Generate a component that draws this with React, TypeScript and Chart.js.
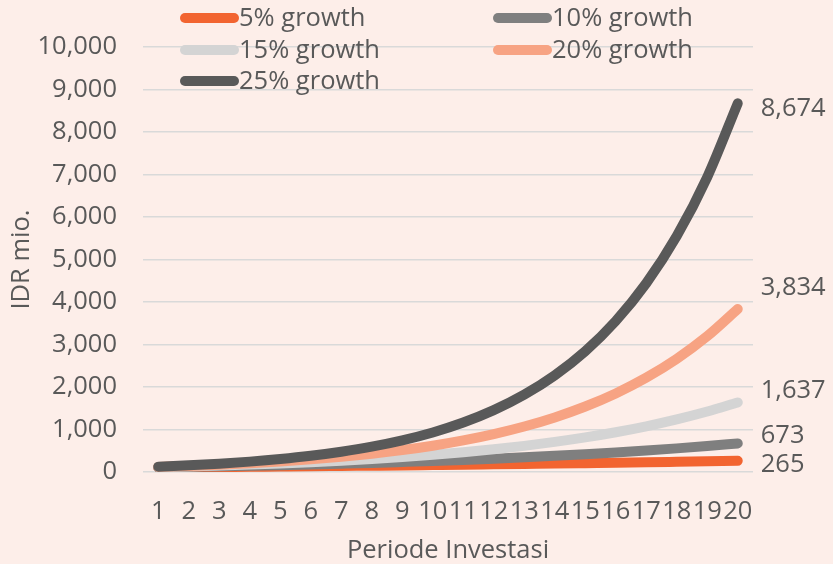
import React, { useEffect, useRef } from "react";
import { Chart, registerables } from "chart.js";

Chart.register(...registerables);

const periods = ["1","2","3","4","5","6","7","8","9","10","11","12","13","14","15","16","17","18","19","20"];
const seriesNames = ["5% growth", "10% growth", "15% growth", "20% growth", "25% growth"];
const growth5 = [105,110,116,122,128,134,141,148,155,163,171,180,189,198,208,218,229,241,253,265];
const growth10 = [110,121,133,146,161,177,195,214,236,259,285,314,345,380,418,459,505,556,612,673];
const growth15 = [115,132,152,175,201,231,266,306,352,405,465,535,615,708,814,936,1076,1238,1423,1637];
const growth20 = [120,144,173,207,249,299,358,430,516,619,743,892,1070,1284,1541,1849,2219,2662,3195,3834];
const growth25 = [125,156,195,244,305,381,477,596,745,931,1164,1455,1819,2274,2842,3553,4441,5551,6939,8674];
const yTicks = [0,1000,2000,3000,4000,5000,6000,7000,8000,9000,10000];

const colors = ["#F26430", "#7F7F7F", "#D4D4D4", "#F7A383", "#595959"];
const FONT = "'Open Sans', Lato, sans-serif";
const FS = 25.5;
const TEXT = "#595959";
const BG = "#FDEEE9";

const legendPlugin = {
  id: "cornerLegend",
  afterDraw(chart: any) {
    const ctx = chart.ctx;
    const cols = [180, 493];
    const rows = [18, 50, 81];
    ctx.save();
    ctx.font = `${FS}px ${FONT}`;
    ctx.textBaseline = "middle";
    ctx.textAlign = "left";
    chart.data.datasets.forEach((ds: any, i: number) => {
      const x = cols[i % 2];
      const y = rows[Math.floor(i / 2)];
      ctx.strokeStyle = ds.borderColor;
      ctx.lineWidth = 10;
      ctx.lineCap = "round";
      ctx.beginPath();
      ctx.moveTo(x + 5, y);
      ctx.lineTo(x + 54, y);
      ctx.stroke();
      ctx.fillStyle = TEXT;
      ctx.fillText(ds.label, x + 59, y + 1);
    });
    ctx.restore();
  },
};

const endLabelPlugin = {
  id: "endLabels",
  afterDatasetsDraw(chart: any) {
    const ctx = chart.ctx;
    const dy = [4, -8, -12, -21, 5];
    ctx.save();
    ctx.font = `${FS}px ${FONT}`;
    ctx.textBaseline = "middle";
    ctx.textAlign = "left";
    ctx.fillStyle = TEXT;
    chart.data.datasets.forEach((ds: any, i: number) => {
      const meta = chart.getDatasetMeta(i);
      const pt = meta.data[meta.data.length - 1];
      const v = ds.data[ds.data.length - 1];
      ctx.fillText(v.toLocaleString("en-US"), pt.x + 23, pt.y + dy[i]);
    });
    ctx.restore();
  },
};

export default function App() {
  const ref = useRef<HTMLCanvasElement | null>(null);
  useEffect(() => {
    if (!ref.current) return;
    const all = [growth5, growth10, growth15, growth20, growth25];
    const chart = new Chart(ref.current, {
      type: "line",
      data: {
        labels: periods,
        datasets: all.map((d, i) => ({
          label: seriesNames[i],
          data: d,
          borderColor: colors[i],
          backgroundColor: colors[i],
          borderWidth: 10,
          borderCapStyle: "round",
          borderJoinStyle: "round",
          pointRadius: 0,
          tension: 0.4,
          cubicInterpolationMode: "monotone",
          order: 5 - i,
        })),
      },
      options: {
        animation: false,
        responsive: true,
        maintainAspectRatio: false,
        layout: { padding: { left: 0, right: 80, top: 47, bottom: 0 } },
        plugins: {
          legend: { display: false },
          tooltip: { enabled: false },
        },
        scales: {
          x: {
            offset: true,
            grid: { display: false, drawTicks: false },
            border: { display: false },
            ticks: {
              autoSkip: false,
              maxRotation: 0,
              minRotation: 0,
              padding: 24,
              color: TEXT,
              font: { family: FONT, size: FS },
            },
            title: {
              display: true,
              text: "Periode Investasi",
              color: TEXT,
              font: { family: FONT, size: FS },
              padding: { top: 0, bottom: -2 },
            },
            afterFit(s: any) {
              s.height = 92;
            },
          },
          y: {
            min: 0,
            max: 10000,
            afterBuildTicks(s: any) {
              s.ticks = yTicks.map((v) => ({ value: v }));
            },
            grid: { color: "#D9D9D9", lineWidth: 1.5, drawTicks: false },
            border: { display: false },
            ticks: {
              padding: 26,
              color: TEXT,
              font: { family: FONT, size: FS },
              callback: (v: any) => Number(v).toLocaleString("en-US"),
            },
            title: {
              display: true,
              text: "IDR mio.",
              color: TEXT,
              font: { family: FONT, size: FS },
              padding: { top: 6, bottom: 0 },
            },
            afterFit(s: any) {
              s.width = 143;
            },
          },
        },
      },
      plugins: [legendPlugin, endLabelPlugin],
    } as any);
    return () => chart.destroy();
  }, []);
  return (
    <div style={{ position: "fixed", left: 0, top: 0, width: 833, height: 564, background: BG }}>
      <canvas ref={ref} />
    </div>
  );
}
